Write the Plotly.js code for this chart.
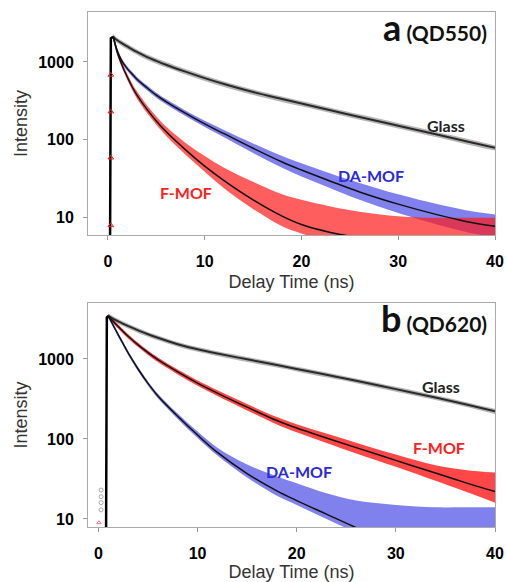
<!DOCTYPE html>
<html>
<head>
<meta charset="utf-8">
<script src="https://cdn.plot.ly/plotly-3.0.1.min.js"></script>
<style>html,body{margin:0;padding:0;background:#fff;}#chart{width:507px;height:582px;}</style>
</head>
<body>
<div id="chart"></div>
<script>
// ---------- Panel a (QD550) ----------
const tA = [0.55,0.75,1,1.5,2,2.5,3,4,5,6,8,10,12,15,18,20,23,26,30,34,37,40];
const glassA_fit = [2100,1980,1880,1720,1580,1450,1340,1160,1030,920,750,620,520,410,334,292,240,197,152,117,96,79];
const glassA_lo  = [1930,1820,1730,1580,1455,1335,1235,1065,948,846,690,570,478,377,307,269,221,181,140,108,88,73];
const glassA_hi  = [2270,2140,2030,1860,1705,1565,1445,1255,1112,994,810,670,562,443,361,315,259,213,164,126,104,85];
const daA_fit = [2100,1700,1350,1000,820,700,600,470,375,310,220,160,120,78,52,41,29.5,21.5,15,11,9,7.8];
const daA_lo  = [1960,1590,1260,935,765,652,558,436,347,286,202,146,108,68,44,34,24,17,11.5,8.2,6.6,5.6];
const daA_hi  = [2240,1810,1440,1065,875,748,642,504,403,334,238,176,134,90,62,50,37,28,20,15,12.5,11];
const fA_fit = [2100,1650,1280,880,640,480,375,250,175,128,75,46,30,17,10.5,8.2,6.5,5.6,5.2,5.1,5,5];
const fA_lo  = [1960,1530,1180,810,585,435,338,224,156,113,65,39,24,13,7.8,6.3,5,5,5,5,5,5];
const fA_hi  = [2240,1770,1390,960,700,530,420,282,200,148,92,62,44,29,20,17,14,12,10.5,10,10,10];
const riseA_t = [0.2,0.3,0.55];
const riseA_v = [1,2000,2100];
const riseA_mt = [0.3,0.3,0.3,0.3];
const riseA_mv = [680,230,59,8];

// ---------- Panel b (QD620) ----------
const tB = [1,1.5,2,2.5,3,4,5,6,8,10,12,15,18,20,23,26,30,34,37,40];
const glassB_fit = [3450,3180,2950,2750,2580,2280,2040,1840,1530,1320,1170,990,840,750,635,535,420,330,272,222];
const glassB_lo  = [3210,2960,2745,2560,2400,2120,1900,1710,1425,1230,1090,920,780,700,590,498,390,307,253,206];
const glassB_hi  = [3690,3400,3155,2940,2760,2440,2180,1970,1635,1410,1250,1060,900,802,680,572,450,353,291,238];
const fB_fit = [3450,2950,2540,2200,1920,1500,1200,980,690,500,375,250,170,137,103,78,54,37.5,28.5,22];
const fB_lo  = [3250,2780,2390,2070,1805,1410,1125,915,642,462,344,227,152,121,89,66,45,30,22,16];
const fB_hi  = [3650,3120,2690,2330,2035,1590,1275,1045,738,538,406,273,188,153,117,90,64,47,41,38];
const daB_fit = [3450,2620,2000,1540,1190,750,495,345,192,112,68,37,22.5,17,11.5,7.8,4.8,3,2.5,2];
const daB_lo  = [3250,2470,1880,1450,1120,705,465,322,178,103,62,33,19.5,15,10,7,6,6,6,6];
const daB_hi  = [3650,2770,2120,1630,1260,795,525,368,208,124,78,48,34,28,21,17,15,14,14,14];
const riseB_t = [0.75,0.85,1.0];
const riseB_v = [1,3300,3450];
const greyB_mt = [0.27,0.27,0.27,0.27];
const greyB_mv = [13,16,19,23];
const redB_mt = [0.05];
const redB_mv = [9];

const xTicks = [0,10,20,30,40];
const yTicks = [10,100,1000];
const yTickText = ['10','100','1000'];

const GREY = 'rgba(120,120,120,0.55)';
const BLUE = 'rgba(45,45,225,0.6)';
const RED = 'rgba(255,25,25,0.8)';
const RED_A = 'rgba(255,25,25,0.7)';

function band(x, lo, hi, color, xa, ya) {
  return [
    {x: x, y: lo, xaxis: xa, yaxis: ya, mode: 'lines', line: {width: 0, color: color, shape: 'spline'}, hoverinfo: 'skip', showlegend: false},
    {x: x, y: hi, xaxis: xa, yaxis: ya, mode: 'lines', line: {width: 0, color: color, shape: 'spline'}, fill: 'tonexty', fillcolor: color, hoverinfo: 'skip', showlegend: false}
  ];
}
function fit(x, y, xa, ya, w, c) {
  return {x: x, y: y, xaxis: xa, yaxis: ya, mode: 'lines', line: {width: w, color: c, shape: 'spline', smoothing: 1}, showlegend: false};
}

const data = [].concat(
  band(tA, glassA_lo, glassA_hi, GREY, 'x', 'y'),
  band(tA, daA_lo, daA_hi, BLUE, 'x', 'y'),
  band(tA, fA_lo, fA_hi, RED_A, 'x', 'y'),
  [fit(tA, glassA_fit, 'x', 'y', 2, '#2a2a2a'),
   fit(tA, daA_fit, 'x', 'y', 1.5, '#111'),
   fit(tA, fA_fit, 'x', 'y', 1.5, '#111'),
   {x: riseA_t, y: riseA_v, xaxis: 'x', yaxis: 'y', mode: 'lines', line: {width: 2.5, color: '#000'}, showlegend: false},
   {x: riseA_mt, y: riseA_mv, xaxis: 'x', yaxis: 'y', mode: 'markers', marker: {symbol: 'triangle-up-open', size: 5, color: 'rgb(255,30,30)'}, showlegend: false}],
  band(tB, glassB_lo, glassB_hi, GREY, 'x2', 'y2'),
  band(tB, fB_lo, fB_hi, RED, 'x2', 'y2'),
  band(tB, daB_lo, daB_hi, BLUE, 'x2', 'y2'),
  [fit(tB, glassB_fit, 'x2', 'y2', 2, '#2a2a2a'),
   fit(tB, fB_fit, 'x2', 'y2', 1.5, '#111'),
   fit(tB, daB_fit, 'x2', 'y2', 1.5, '#111'),
   {x: riseB_t, y: riseB_v, xaxis: 'x2', yaxis: 'y2', mode: 'lines', line: {width: 2.5, color: '#000'}, showlegend: false},
   {x: greyB_mt, y: greyB_mv, xaxis: 'x2', yaxis: 'y2', mode: 'markers', marker: {symbol: 'circle-open', size: 4, color: 'rgb(170,170,170)'}, showlegend: false},
   {x: redB_mt, y: redB_mv, xaxis: 'x2', yaxis: 'y2', mode: 'markers', marker: {symbol: 'triangle-up-open', size: 4, color: 'rgb(255,120,120)'}, showlegend: false}]
);

const tickFont = {family: 'Liberation Sans, Arial, sans-serif', size: 16, color: '#000', weight: 'bold'};
const titleFont = {family: 'Liberation Sans, Arial, sans-serif', size: 18, color: '#333'};
function xax(range, anchor) {
  return {range: range, anchor: anchor, tickvals: xTicks, ticktext: xTicks.map(String), ticks: 'outside', ticklen: 4, tickcolor: '#999',
    showline: true, linecolor: '#aaa', linewidth: 1, mirror: true, showgrid: false, zeroline: false,
    tickfont: tickFont, ticklabelstandoff: 8,
    title: {text: 'Delay Time (ns)', font: titleFont, standoff: 6}};
}
function yax(range, domain, anchor) {
  return {type: 'log', range: range, domain: domain, anchor: anchor, tickvals: yTicks, ticktext: yTickText, ticks: 'outside', ticklen: 4, tickcolor: '#999',
    showline: true, linecolor: '#aaa', linewidth: 1, mirror: true, showgrid: false, zeroline: false,
    tickfont: tickFont, ticklabelstandoff: 6,
    title: {text: 'Intensity', font: titleFont, standoff: 5}};
}

const labFont = (c) => ({family: 'Lato, sans-serif', size: 16, color: c, weight: 'bold'});
const annotations = [
  {xref: 'x domain', yref: 'y domain', x: 0.985, y: 1.04, xanchor: 'right', yanchor: 'top', showarrow: false,
   text: '<b><span style="font-size:36px">a</span> (QD550)</b>', font: {family: 'Lato, sans-serif', size: 21, color: '#111'}},
  {xref: 'x2 domain', yref: 'y2 domain', x: 0.985, y: 1.04, xanchor: 'right', yanchor: 'top', showarrow: false,
   text: '<b><span style="font-size:36px">b</span> (QD620)</b>', font: {family: 'Lato, sans-serif', size: 21, color: '#111'}},
  {xref: 'x', yref: 'y', x: 34.9, y: Math.log10(155), showarrow: false, text: '<b>Glass</b>', font: labFont('#222')},
  {xref: 'x', yref: 'y', x: 27.2, y: Math.log10(35), showarrow: false, text: '<b>DA-MOF</b>', font: labFont('#2a2ad8')},
  {xref: 'x', yref: 'y', x: 8.1, y: Math.log10(21), showarrow: false, text: '<b>F-MOF</b>', font: labFont('#ff2020')},
  {xref: 'x2', yref: 'y2', x: 34.6, y: Math.log10(447), showarrow: false, text: '<b>Glass</b>', font: labFont('#222')},
  {xref: 'x2', yref: 'y2', x: 34.4, y: Math.log10(79), showarrow: false, text: '<b>F-MOF</b>', font: labFont('#ff2020')},
  {xref: 'x2', yref: 'y2', x: 20.2, y: Math.log10(38.7), showarrow: false, text: '<b>DA-MOF</b>', font: labFont('#2a2ad8')}
];

const layout = {
  width: 507, height: 582,
  margin: {l: 88, r: 12, t: 12, b: 55},
  paper_bgcolor: '#fff', plot_bgcolor: '#fff',
  showlegend: false,
  xaxis: xax([-2.06, 40], 'y'),
  yaxis: yax([0.78, 3.64], [0.567, 1], 'x'),
  xaxis2: xax([-1.05, 40], 'y2'),
  yaxis2: yax([0.9, 3.70], [0, 0.435], 'x2'),
  annotations: annotations
};

Plotly.newPlot('chart', data, layout, {staticPlot: true, displayModeBar: false});
</script>
</body>
</html>
